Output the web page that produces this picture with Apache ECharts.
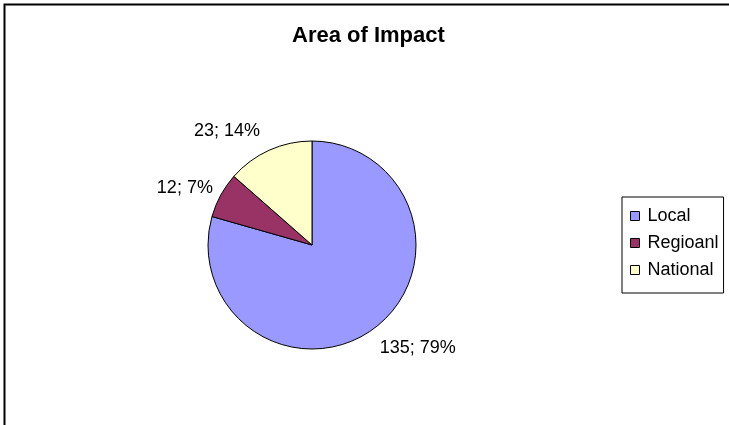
<!DOCTYPE html>
<html><head><meta charset="utf-8">
<script src="https://cdn.jsdelivr.net/npm/echarts@6/dist/echarts.min.js"></script>
<style>html,body{margin:0;padding:0;background:#fff}#c{width:729px;height:425px}</style>
</head><body><div id="c"></div>
<script>
const categories = ['Local', 'Regioanl', 'National'];
const values = [135, 12, 23];
const percents = [79, 7, 14];
const colors = ['#9999FF', '#993366', '#FFFFCC'];
const titleText = 'Area of Impact';

const chart = echarts.init(document.getElementById('c'), null, {renderer: 'canvas'});
const labelShift = [[-6, 12], [6, -2], [0, -10]];
chart.setOption({
  animation: false,
  backgroundColor: '#fff',
  title: {text: titleText, left: 287, top: 20, textStyle: {fontFamily: 'Liberation Sans', fontWeight: 'bold', fontSize: 22, color: '#000'}},
  graphic: [{type: 'rect', shape: {x: 4.5, y: 4.5, width: 900, height: 900}, style: {fill: null, stroke: '#000', lineWidth: 2}, silent: true}],
  legend: {
    orient: 'vertical', left: 622, top: 197,
    data: categories,
    icon: 'rect', itemWidth: 9, itemHeight: 9, itemGap: 9,
    padding: [10, 5, 14, 8],
    borderColor: '#000', borderWidth: 1, backgroundColor: '#fff',
    textStyle: {fontFamily: 'Liberation Sans', fontSize: 18, color: '#000', padding: [0, 0, 0, 3]},
    itemStyle: {borderColor: '#000', borderWidth: 1}
  },
  series: [{
    type: 'pie',
    center: [312, 245], radius: 104,
    startAngle: 90, clockwise: true,
    avoidLabelOverlap: false,
    itemStyle: {borderColor: '#000', borderWidth: 1},
    label: {show: true, position: 'outside', fontFamily: 'Liberation Sans', fontSize: 18, color: '#000',
      formatter: p => values[p.dataIndex] + '; ' + percents[p.dataIndex] + '%'},
    labelLine: {show: false, length: 10, length2: 0},
    labelLayout: p => ({dx: labelShift[p.dataIndex][0], dy: labelShift[p.dataIndex][1]}),
    emphasis: {disabled: true},
    data: categories.map((c, i) => ({name: c, value: values[i], itemStyle: {color: colors[i]}}))
  }]
});
</script></body></html>
